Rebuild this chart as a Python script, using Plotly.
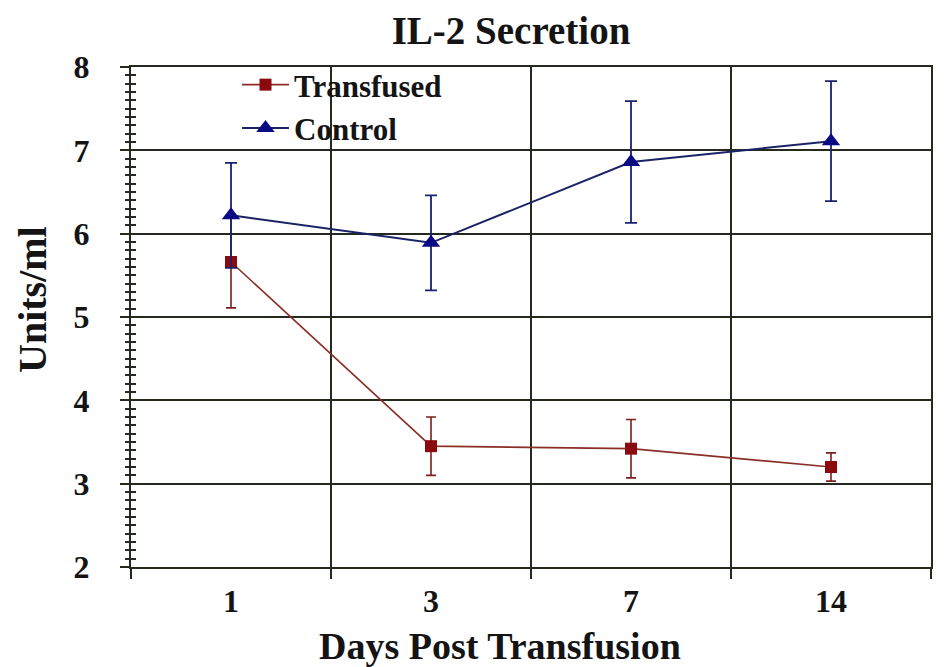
import plotly.graph_objects as go

# Days post transfusion (categorical x axis)
days = ["1", "3", "7", "14"]

# IL-2 secretion (units/ml): mean and error
transfused = [5.66, 3.45, 3.42, 3.20]
transfused_err = [0.55, 0.35, 0.35, 0.17]
control = [6.22, 5.89, 6.86, 7.11]
control_err = [0.63, 0.57, 0.73, 0.72]

SERIF = "'Liberation Serif', 'Times New Roman', Times, serif"
INK = "#141414"
GRID = "#252a1e"

# plot-area geometry in pixels (used to convert to paper coordinates)
L, R, T, B = 131, 931, 67, 567
W_PLOT, H_PLOT = R - L, B - T


def px(x):
    return (x - L) / W_PLOT


def py(y):
    return (B - y) / H_PLOT


fig = go.Figure()

fig.add_trace(go.Scatter(
    x=days, y=transfused, name="Transfused", mode="lines+markers",
    line=dict(color="#8a2f26", width=1.6),
    marker=dict(symbol="square", size=12, color="#8b0a0f"),
    error_y=dict(type="data", array=transfused_err, visible=True,
                 color="#7a1f1c", thickness=1.6, width=5),
))
# Control rides on the companion y axis (same range) so that axis is drawn
fig.add_trace(go.Scatter(
    x=days, y=control, name="Control", mode="lines+markers", yaxis="y2",
    line=dict(color="#1b2266", width=2),
    marker=dict(symbol="triangle-up", size=16, color="#0a0a85"),
    error_y=dict(type="data", array=control_err, visible=True,
                 color="#1b2270", thickness=1.8, width=6),
))

fig.update_layout(
    width=952, height=667,
    margin=dict(l=L, r=952 - R, t=T, b=667 - B),
    paper_bgcolor="white", plot_bgcolor="white",
    font=dict(family=SERIF, color=INK, size=32, weight="bold"),
    title=dict(text="IL-2 Secretion", x=511 / 952, xanchor="center",
               y=1 - 30 / 667, yanchor="middle",
               font=dict(family=SERIF, size=39, color=INK, weight="bold")),
    showlegend=True,
    legend=dict(x=px(237), y=py(58), xanchor="left", yanchor="top",
                bgcolor="rgba(255,255,255,0)", borderwidth=0,
                itemwidth=47,
                font=dict(family=SERIF, size=31, color=INK, weight="bold"),
                tracegroupgap=0),
    # white patch behind the legend, above the grid but below the data
    shapes=[dict(type="rect", xref="paper", yref="paper", layer="between",
                 x0=px(215), x1=px(475), y0=py(145), y1=py(69),
                 fillcolor="white", line=dict(width=0))],
    xaxis=dict(
        type="category", range=[-0.5, 3.5], tickson="boundaries",
        ticks="outside", ticklen=10, tickwidth=2, tickcolor=GRID,
        showline=True, linecolor=GRID, linewidth=2, mirror=True,
        showgrid=True, gridcolor=GRID, gridwidth=2,
        tickfont=dict(family=SERIF, size=32, color=INK, weight="bold"),
        ticklabelstandoff=5,
        zeroline=False,
    ),
    yaxis=dict(
        range=[2, 8], dtick=1, tick0=0,
        ticks="outside", ticklen=9, tickwidth=2, tickcolor=GRID,
        minor=dict(dtick=0.1, ticks="outside", ticklen=4, tickwidth=1.5,
                   tickcolor=GRID, showgrid=False),
        showline=True, linecolor=GRID, linewidth=2, mirror=True,
        showgrid=True, gridcolor=GRID, gridwidth=2,
        tickfont=dict(family=SERIF, size=32, color=INK, weight="bold"),
        ticklabelstandoff=24,
        zeroline=False,
    ),
    # companion axis carrying the inner half of the crossing ticks
    yaxis2=dict(
        overlaying="y", side="left", range=[2, 8], dtick=1, tick0=0,
        ticks="inside", ticklen=5, tickwidth=2, tickcolor=GRID,
        minor=dict(dtick=0.1, ticks="inside", ticklen=5, tickwidth=1.5,
                   tickcolor=GRID, showgrid=False),
        showticklabels=False, showgrid=False, showline=False, zeroline=False,
    ),
    annotations=[
        dict(text="Days Post Transfusion", xref="paper", yref="paper",
             x=px(500), y=py(646),
             xanchor="center", yanchor="middle", showarrow=False,
             font=dict(family=SERIF, size=38, color=INK, weight="bold")),
        dict(text="Units/ml", xref="paper", yref="paper",
             x=px(32), y=py(300), textangle=-90,
             xanchor="center", yanchor="middle", showarrow=False,
             font=dict(family=SERIF, size=40, color=INK, weight="bold")),
    ],
)

fig.write_html("out.html")
